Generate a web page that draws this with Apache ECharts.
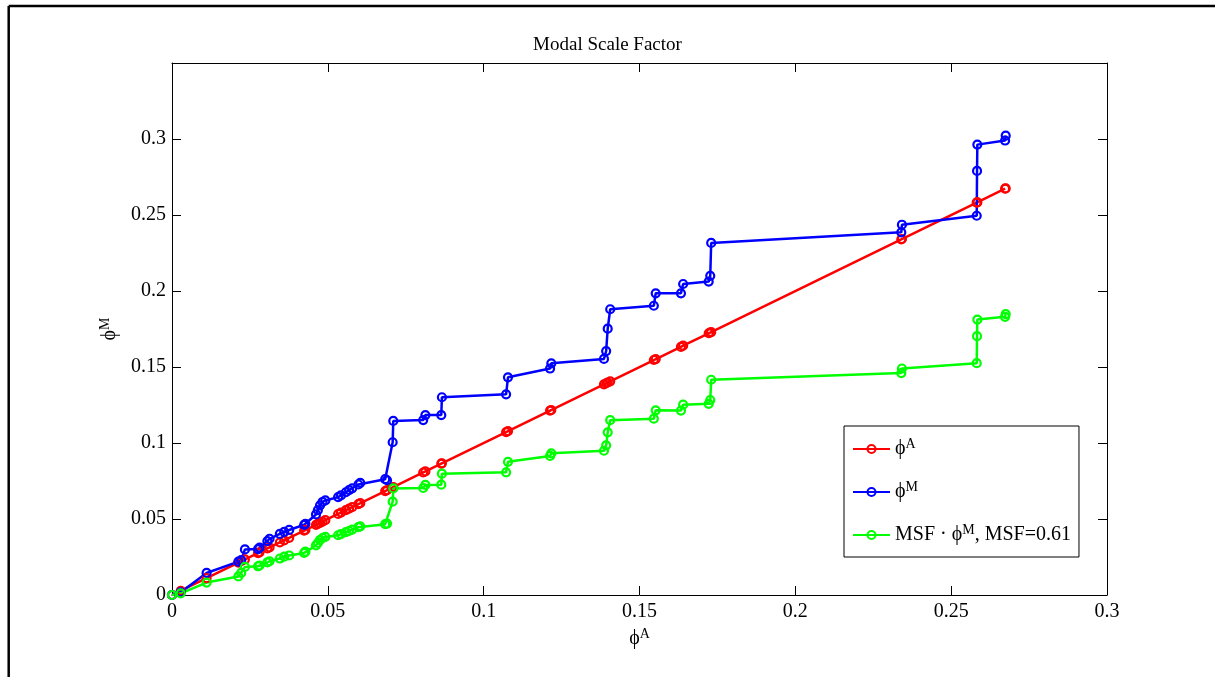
<!DOCTYPE html>
<html>
<head>
<meta charset="utf-8">
<title>Modal Scale Factor</title>
<script src="https://cdn.jsdelivr.net/npm/echarts@6/dist/echarts.min.js"></script>
<style>
html,body{margin:0;padding:0;background:#fff;}
#main{width:1215px;height:677px;}
</style>
</head>
<body>
<div id="main"></div>
<script>
// analytical mode shape values (x axis, and the red line plots them against themselves)
var phiA = [
	0.0000, 0.0028, 0.0111, 0.0213, 0.0222, 0.0234, 0.0276, 0.0281, 0.0306, 0.0313,
	0.0346, 0.0360, 0.0376, 0.0424, 0.0428, 0.0462, 0.0468, 0.0475, 0.0483, 0.0492,
	0.0533, 0.0542, 0.0558, 0.0568, 0.0578, 0.0598, 0.0604, 0.0684, 0.0690, 0.0708,
	0.0710, 0.0806, 0.0813, 0.0864, 0.0866, 0.1072, 0.1078, 0.1213, 0.1217, 0.1386,
	0.1393, 0.1398, 0.1406, 0.1546, 0.1552, 0.1633, 0.1640, 0.1722, 0.1727, 0.1730,
	0.2340, 0.2342, 0.2582, 0.2583, 0.2584, 0.2673, 0.2675
];
// measured mode shape values
var phiM = [
	0.0000, 0.0018, 0.0145, 0.0220, 0.0230, 0.0300, 0.0302, 0.0312, 0.0355, 0.0370,
	0.0402, 0.0415, 0.0428, 0.0462, 0.0468, 0.0530, 0.0558, 0.0590, 0.0612, 0.0622,
	0.0644, 0.0655, 0.0676, 0.0690, 0.0702, 0.0727, 0.0738, 0.0762, 0.0755, 0.1005,
	0.1145, 0.1151, 0.1184, 0.1184, 0.1301, 0.1320, 0.1432, 0.1490, 0.1524, 0.1553,
	0.1605, 0.1752, 0.1880, 0.1903, 0.1985, 0.1985, 0.2046, 0.2062, 0.2100, 0.2316,
	0.2386, 0.2436, 0.2495, 0.2790, 0.2963, 0.2990, 0.3022
];
// scaled measured values (MSF = 0.61)
var msfPhiM = [
	0.0000, 0.0011, 0.0082, 0.0122, 0.0145, 0.0185, 0.0189, 0.0194, 0.0214, 0.0222,
	0.0240, 0.0252, 0.0260, 0.0277, 0.0285, 0.0326, 0.0342, 0.0362, 0.0375, 0.0382,
	0.0393, 0.0401, 0.0413, 0.0421, 0.0430, 0.0446, 0.0452, 0.0466, 0.0470, 0.0614,
	0.0701, 0.0704, 0.0724, 0.0726, 0.0798, 0.0807, 0.0876, 0.0915, 0.0932, 0.0949,
	0.0985, 0.1070, 0.1150, 0.1160, 0.1215, 0.1213, 0.1252, 0.1258, 0.1283, 0.1416,
	0.1460, 0.1490, 0.1525, 0.1703, 0.1812, 0.1830, 0.1848
];
var xMin = 0, xMax = 0.3, xStep = 0.05;
var yMin = 0, yMax = 0.35, yStep = 0.05;

var serif = 'Liberation Serif';
var rich = {
	t:{fontFamily:serif,fontSize:20,color:'#000',lineHeight:24},
	s:{fontFamily:serif,fontSize:14,color:'#000',lineHeight:14,verticalAlign:'top'}
};
var legendText = {
	'phiA':'{t|ϕ}{s|A}',
	'phiM':'{t|ϕ}{s|M}',
	'msf':'{t|MSF · ϕ}{s|M}{t|, MSF=0.61}'
};

function pairs(ys){
	var out=[];
	for(var i=0;i<phiA.length;i++){
		out.push([phiA[i], ys[i]]);
	}
	return out;
}

function mkSeries(name,color,ys){
	return {
		name:name,
		type:'line',
		data:pairs(ys),
		symbol:'circle',
		symbolSize:8,
		showSymbol:true,
		lineStyle:{color:color,width:2.5},
		itemStyle:{color:'rgba(255,255,255,0)',borderColor:color,borderWidth:2.2},
		emphasis:{disabled:true}
	};
}

var tickStyle = {show:true,inside:true,length:9,lineStyle:{color:'#000',width:1}};
var lineStyle = {show:true,onZero:false,lineStyle:{color:'#000',width:1}};

var myChart = echarts.init(document.getElementById('main'));
var option = {
	animation:false,
	backgroundColor:'#fff',
	title:{
		text:'Modal Scale Factor',
		left:'center',
		top:31,
		textStyle:{fontFamily:serif,fontSize:19,fontWeight:'normal',color:'#000'}
	},
	graphic:[
		{type:'line',shape:{x1:8.7,y1:6,x2:1215,y2:6},style:{stroke:'#000',lineWidth:2.5}},
		{type:'line',shape:{x1:8.7,y1:6,x2:8.7,y2:677},style:{stroke:'#000',lineWidth:2.5}}
	],
	grid:{left:172,right:108,top:63,bottom:82,containLabel:false},
	legend:{
		data:['phiA','phiM','msf'],
		orient:'vertical',
		left:844,
		top:426,
		padding:[11,8,12,8],
		itemGap:21,
		itemWidth:37,
		itemHeight:10,
		backgroundColor:'#fff',
		borderColor:'#000',
		borderWidth:1,
		borderRadius:0,
		formatter:function(name){ return legendText[name]; },
		textStyle:{rich:rich}
	},
	xAxis:[{
		type:'value',
		min:xMin,max:xMax,interval:xStep,
		name:'{t|ϕ}{s|A}',
		nameLocation:'middle',
		nameGap:26,
		nameTextStyle:{rich:rich},
		axisLine:lineStyle,
		axisTick:tickStyle,
		splitLine:{show:false},
		axisLabel:{margin:7,fontFamily:serif,fontSize:20,color:'#000'}
	},{
		type:'value',
		position:'top',
		min:xMin,max:xMax,interval:xStep,
		axisLine:lineStyle,
		axisTick:tickStyle,
		splitLine:{show:false},
		axisLabel:{show:false}
	}],
	yAxis:[{
		type:'value',
		min:yMin,max:yMax,interval:yStep,
		name:'{t|ϕ}{s|M}',
		nameLocation:'middle',
		nameRotate:90,
		nameGap:41,
		nameTextStyle:{rich:rich},
		axisLine:lineStyle,
		axisTick:tickStyle,
		splitLine:{show:false},
		axisLabel:{margin:6,fontFamily:serif,fontSize:20,color:'#000',showMaxLabel:false}
	},{
		type:'value',
		position:'right',
		min:yMin,max:yMax,interval:yStep,
		axisLine:lineStyle,
		axisTick:tickStyle,
		splitLine:{show:false},
		axisLabel:{show:false}
	}],
	series:[
		mkSeries('phiA','#ff0000',phiA),
		mkSeries('phiM','#0000ff',phiM),
		mkSeries('msf','#00ff00',msfPhiM)
	]
};
myChart.setOption(option);
</script>
</body>
</html>
